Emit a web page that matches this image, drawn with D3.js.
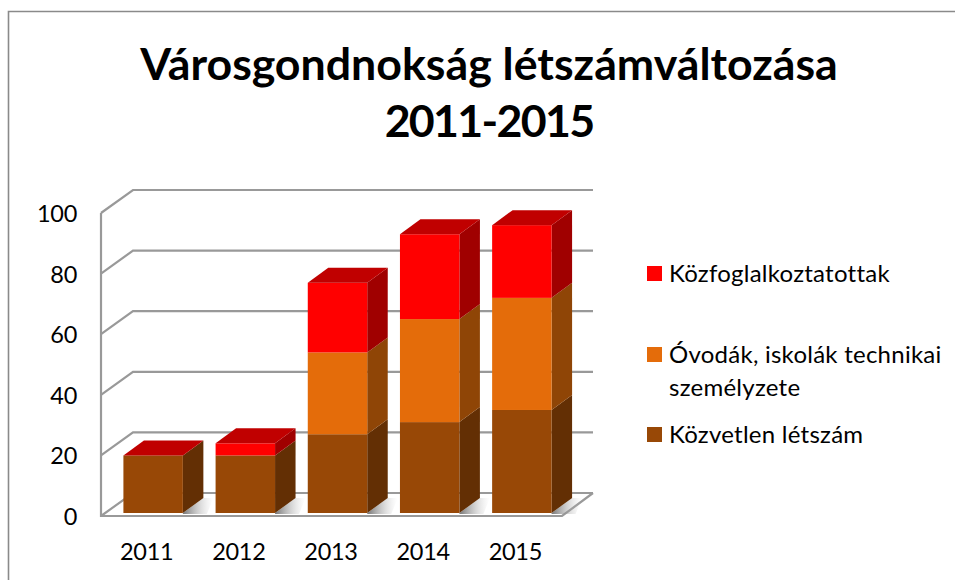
<!DOCTYPE html>
<html><head><meta charset="utf-8">
<script src="https://cdn.jsdelivr.net/npm/d3@7"></script>
<style>html,body{margin:0;padding:0;background:#fff}svg{display:block}text{font-family:Lato,"Open Sans",sans-serif;fill:#000}</style>
</head><body><div id="c"></div>
<script>
const titleLines = ["Városgondnokság létszámváltozása", "2011-2015"];
const years = ["2011","2012","2013","2014","2015"];
const direct = [19,19,26,30,34];
const schools = [0,0,27,34,37];
const publicWork = [0,4,23,28,24];
const seriesKeys = ["direct","schools","publicWork"];
const seriesColors = {direct:"#984806",schools:"#E46C0A",publicWork:"#FF0000"};
const sideColors = {direct:"#632F04",schools:"#8F4506",publicWork:"#A00000"};
const topColor = "#C00000";
const legendItems = [
 {k:"publicWork",lines:["Közfoglalkoztatottak"]},
 {k:"schools",lines:["Óvodák, iskolák technikai","személyzete"]},
 {k:"direct",lines:["Közvetlen létszám"]}
];
const yTicks = [0,20,40,60,80,100];

const W=955,H=580;
const svg=d3.select("#c").append("svg").attr("width",W).attr("height",H);
const gridCol="#999999";
svg.append("path").attr("d",`M8.5,580V11.5H955`).attr("fill","none").attr("stroke","#8a8a8a").attr("stroke-width",1.6);

const x=d3.scaleBand().domain(years).range([101,562]).paddingInner(0.355).paddingOuter(0.178);
const y=d3.scaleLinear().domain([0,100]).range([516,213]);
const wallDx=32, wallDy=-23;
const barBase=-3, barShift=6, depthX=20.5, depthY=-15;
const yb=v=>y(v)+barBase;

// title
svg.append("g").selectAll("text").data(titleLines).join("text")
 .attr("x",489).attr("y",(d,i)=>80+i*56.5).attr("text-anchor","middle")
 .attr("font-size",44.7).attr("font-weight",700)
 .attr("letter-spacing",(d,i)=>i?-1.7:0).text(d=>d);

// walls and floor
const g=svg.append("g").attr("fill","none").attr("stroke",gridCol).attr("stroke-width",2.2);
g.selectAll("path.grid").data(yTicks).join("path").attr("class","grid")
 .attr("d",t=>`M${x.range()[0]},${y(t)}L${x.range()[0]+wallDx},${y(t)+wallDy}H593`);
g.append("path").attr("d",`M101,${y(100)}V${y(0)}H${x.range()[1]}L593,${y(0)+wallDy}`);

// axes
const ax=svg.append("g").attr("transform","translate(77,0)")
 .call(d3.axisLeft(y).tickValues(yTicks).tickSize(0).tickPadding(0));
ax.select(".domain").remove();
ax.selectAll("text").attr("font-size",23.5).attr("letter-spacing",-0.3).attr("x",0).attr("dy",8.5);
const bx=svg.append("g").attr("transform","translate(-0.5,560)")
 .call(d3.axisBottom(x).tickSize(0).tickPadding(0));
bx.select(".domain").remove();
bx.selectAll("text").attr("font-size",23.5).attr("letter-spacing",-0.3).attr("y",0).attr("dy",0);
svg.selectAll(".tick text").style("font-family","Lato,sans-serif");

// stacked data
const rows=years.map((yr,i)=>({year:yr,direct:direct[i],schools:schools[i],publicWork:publicWork[i]}));
const stacked=d3.stack().keys(seriesKeys)(rows);

// floor shadow
const defs=svg.append("defs");
const sg=defs.append("linearGradient").attr("id","sh").attr("x1",0).attr("x2",1).attr("y1",0).attr("y2",0);
sg.append("stop").attr("offset",0).attr("stop-color","#666").attr("stop-opacity",.9);
sg.append("stop").attr("offset",1).attr("stop-color","#ccc").attr("stop-opacity",0);
svg.append("g").selectAll("path").data(years).join("path")
 .attr("fill","url(#sh)")
 .attr("d",yr=>{const r=x(yr)+barShift+x.bandwidth();const b=yb(0);
   return `M${r},${b}L${r+depthX},${b+depthY}H${r+depthX+10}L${r+24},${b+1}H${r}Z`;});

// bars
years.forEach((yr,i)=>{
 const L=x(yr)+barShift,R=L+x.bandwidth();
 const bar=svg.append("g");
 stacked.forEach(s=>{
  const [a,b]=s[i]; if(a===b)return;
  const k=s.key;
  bar.append("path").attr("fill",sideColors[k])
   .attr("d",`M${R},${yb(a)}V${yb(b)}l${depthX},${depthY}V${yb(a)+depthY}Z`);
  bar.append("rect").attr("x",L).attr("width",x.bandwidth()).attr("y",yb(b)).attr("height",yb(a)-yb(b)).attr("fill",seriesColors[k]);
 });
 const tot=stacked[stacked.length-1][i][1];
 bar.append("path").attr("fill",topColor)
  .attr("d",`M${L},${yb(tot)}H${R}l${depthX},${depthY}H${L+depthX}Z`);
});

// legend
const sw={publicWork:266,schools:347,direct:427};
const leg=svg.append("g").selectAll("g").data(legendItems).join("g");
leg.append("rect").attr("x",647).attr("y",d=>sw[d.k]).attr("width",15).attr("height",15).attr("fill",d=>seriesColors[d.k]);
leg.each(function(d){
 d3.select(this).selectAll("text").data(d.lines).join("text")
  .attr("x",669).attr("y",(t,i)=>sw[d.k]+16+i*33).attr("font-size",24).attr("letter-spacing",0.25).text(t=>t);
});
</script></body></html>
